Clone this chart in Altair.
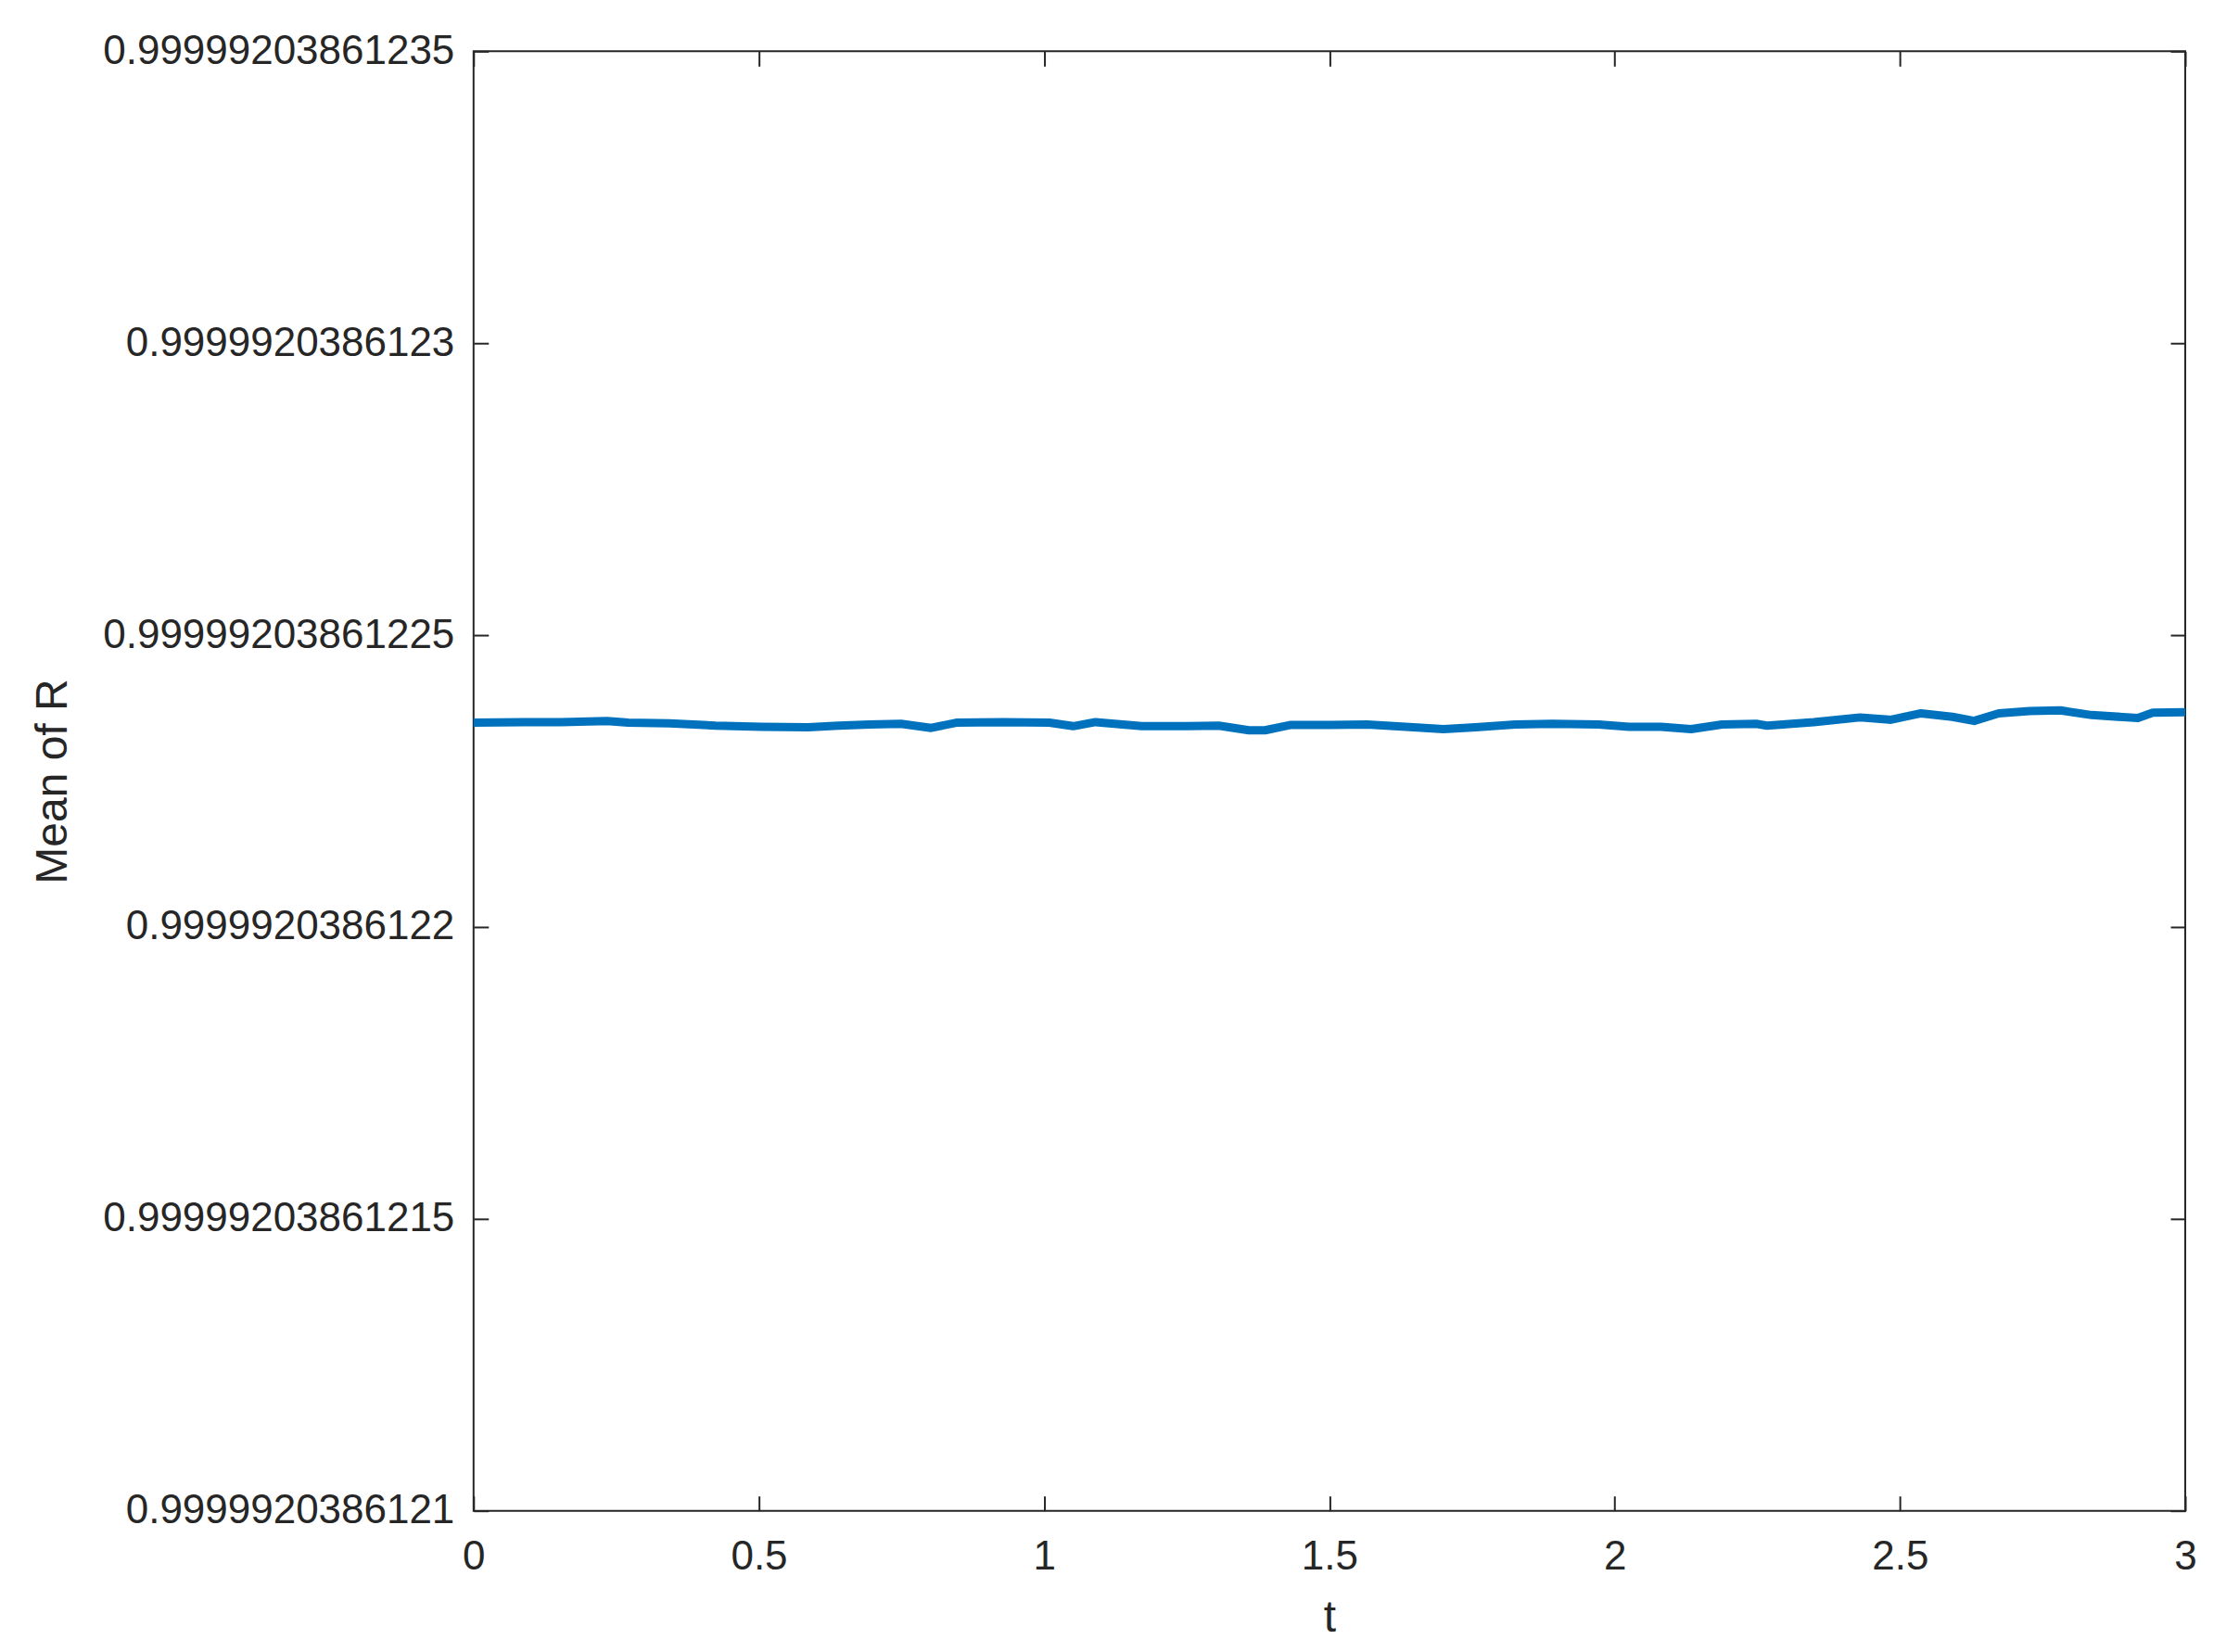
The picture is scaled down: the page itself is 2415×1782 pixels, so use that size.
import altair as alt
import pandas as pd

# time axis values
T = [0.000, 0.088, 0.153, 0.234, 0.271, 0.343, 0.424, 0.505, 0.586, 0.640,
     0.694, 0.749, 0.802, 0.846, 0.927, 1.009, 1.051, 1.090, 1.171, 1.252,
     1.306, 1.359, 1.387, 1.431, 1.501, 1.566, 1.647, 1.700, 1.756, 1.826,
     1.891, 1.972, 2.025, 2.081, 2.134, 2.188, 2.248, 2.267, 2.349, 2.430,
     2.484, 2.537, 2.592, 2.630, 2.673, 2.727, 2.781, 2.836, 2.917, 2.943,
     3.000]

# Mean of R, expressed as offset above 0.9999920386121 in units of 1e-14
R_OFFSET = [13.50, 13.51, 13.51, 13.53, 13.50, 13.49, 13.45, 13.43, 13.42, 13.45,
            13.47, 13.48, 13.41, 13.50, 13.51, 13.50, 13.44, 13.51, 13.44, 13.44,
            13.45, 13.37, 13.37, 13.46, 13.46, 13.47, 13.42, 13.39, 13.42, 13.47,
            13.48, 13.47, 13.43, 13.43, 13.39, 13.47, 13.48, 13.45, 13.51, 13.59,
            13.55, 13.66, 13.60, 13.53, 13.66, 13.70, 13.71, 13.63, 13.58, 13.67,
            13.68]

Y_TICKS = [0, 5, 10, 15, 20, 25]
Y_TICK_LABELS = ["0.9999920386121", "0.99999203861215", "0.9999920386122",
                 "0.99999203861225", "0.9999920386123", "0.99999203861235"]
X_TICKS = [0, 0.5, 1, 1.5, 2, 2.5, 3]
X_TICK_LABELS = ["0", "0.5", "1", "1.5", "2", "2.5", "3"]

df = pd.DataFrame({"t": T, "r": R_OFFSET})


def lab_expr(vals, labs):
    expr = "''"
    for v, l in reversed(list(zip(vals, labs))):
        expr = f"abs(datum.value - {v}) < 1e-9 ? '{l}' : ({expr})"
    return expr


W, H = 1847, 1575
TICK = 16
FONT = "Liberation Sans"
INK = "#262626"

xscale = alt.Scale(domain=[0, 3], nice=False, zero=False)
yscale = alt.Scale(domain=[0, 25], nice=False, zero=False)

base = alt.Chart(df)

main = base.mark_line(color="#0072BD", strokeWidth=9, strokeJoin="round").encode(
    x=alt.X("t:Q", scale=xscale,
            axis=alt.Axis(orient="bottom", values=X_TICKS,
                          labelExpr=lab_expr(X_TICKS, X_TICK_LABELS),
                          tickSize=TICK, offset=-TICK, domain=False, grid=False,
                          labelPadding=28, labelFlush=False, labelOverlap=False,
                          labelLimit=1000,
                          labelFontSize=44, title="t", titleFontSize=48,
                          titlePadding=20)),
    y=alt.Y("r:Q", scale=yscale,
            axis=alt.Axis(orient="left", values=Y_TICKS,
                          labelExpr=lab_expr(Y_TICKS, Y_TICK_LABELS),
                          tickSize=TICK, offset=-TICK, domain=False, grid=False,
                          labelPadding=21, labelFlush=False, labelOverlap=False,
                          labelLimit=1000,
                          labelFontSize=44, title="Mean of R", titleFontSize=48,
                          titleBaseline="middle", titleX=-469)),
)

overlay = base.mark_line(strokeOpacity=0).encode(
    x=alt.X("t:Q", scale=xscale,
            axis=alt.Axis(orient="top", values=X_TICKS, labels=False, title="",
                          tickSize=TICK, offset=-TICK, domain=False, grid=False)),
    y=alt.Y("r:Q", scale=yscale,
            axis=alt.Axis(orient="right", values=Y_TICKS, labels=False, title="",
                          tickSize=TICK, offset=-TICK, domain=False, grid=False)),
)

chart = alt.layer(main, overlay).resolve_axis(
    x="independent", y="independent"
).properties(
    width=W, height=H,
    autosize=alt.AutoSizeParams(type="none"),
    padding={"left": 503, "top": 47, "right": 50, "bottom": 144},
    background="white",
).configure_view(
    stroke=INK, strokeWidth=2
).configure_axis(
    labelFont=FONT, titleFont=FONT, labelColor=INK, titleColor=INK,
    tickColor=INK, tickWidth=2, titleFontWeight="normal"
)

chart.save("out.html", embed_options={"renderer": "svg", "actions": False})
